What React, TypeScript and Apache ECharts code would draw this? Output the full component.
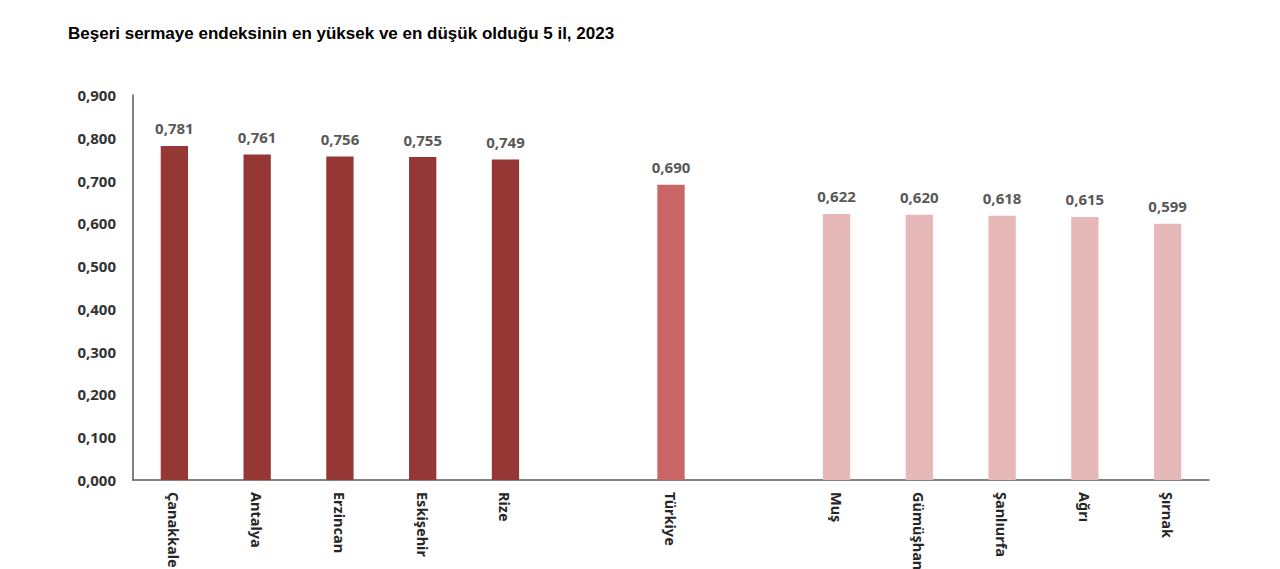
import React, { useEffect, useRef } from "react";
import * as echarts from "echarts";

const categories = ["Çanakkale", "Antalya", "Erzincan", "Eskişehir", "Rize", "", "Türkiye", "", "Muş", "Gümüşhane", "Şanlıurfa", "Ağrı", "Şırnak"];
const values: (number | null)[] = [0.781, 0.761, 0.756, 0.755, 0.749, null, 0.69, null, 0.622, 0.62, 0.618, 0.615, 0.599];
const groups = ["high", "high", "high", "high", "high", "", "tr", "", "low", "low", "low", "low", "low"];
const yTicks = [0, 0.9, 0.1];
const title = "Beşeri sermaye endeksinin en yüksek ve en düşük olduğu 5 il, 2023";

const colorMap: Record<string, string> = { high: "#953735", tr: "#C96565", low: "#E6B9B8" };

export default function App() {
  const ref = useRef<HTMLDivElement>(null);
  useEffect(() => {
    const chart = echarts.init(ref.current!, null, { renderer: "svg" });
    const fmt = (v: number) => v.toFixed(3).replace(".", ",");
    chart.setOption({
      animation: false,
      backgroundColor: "#ffffff",
      title: {
        text: title,
        left: 63,
        top: 20,
        textStyle: { fontFamily: "Liberation Sans", fontWeight: "bold", fontSize: 17, color: "#000" },
      },
      grid: { left: 133, right: 71, top: 95, bottom: 89, containLabel: false, outerBoundsMode: "none" },
      xAxis: {
        type: "category",
        data: categories,
        axisLine: { lineStyle: { color: "#595959", width: 1.5 } },
        axisTick: { show: false },
        axisLabel: {
          rotate: -90,
          interval: 0,
          margin: 12,
          fontFamily: "Noto Sans",
          fontWeight: "bold",
          fontSize: 14.5,
          color: "#262626",
        },
      },
      yAxis: {
        type: "value",
        min: yTicks[0],
        max: yTicks[1],
        interval: yTicks[2],
        splitLine: { show: false },
        axisLine: { show: true, lineStyle: { color: "#595959", width: 1.5 } },
        axisTick: { show: false },
        axisLabel: {
          formatter: (v: number) => fmt(v),
          margin: 17,
          fontFamily: "Noto Sans",
          fontWeight: "bold",
          fontSize: 15,
          color: "#333",
        },
      },
      series: [
        {
          type: "bar",
          barWidth: "33%",
          data: values.map((v, i) => ({
            value: v,
            itemStyle: { color: colorMap[groups[i]] || "#fff" },
          })),
          label: {
            show: true,
            position: "top",
            distance: 10,
            formatter: (p: any) => (p.value == null ? "" : fmt(p.value)),
            fontFamily: "Noto Sans",
            fontWeight: "bold",
            fontSize: 15,
            color: "#595959",
          },
        },
      ],
    });
    return () => chart.dispose();
  }, []);
  return <div ref={ref} style={{ width: 1280, height: 569, position: "absolute", left: 0, top: 0 }} />;
}
